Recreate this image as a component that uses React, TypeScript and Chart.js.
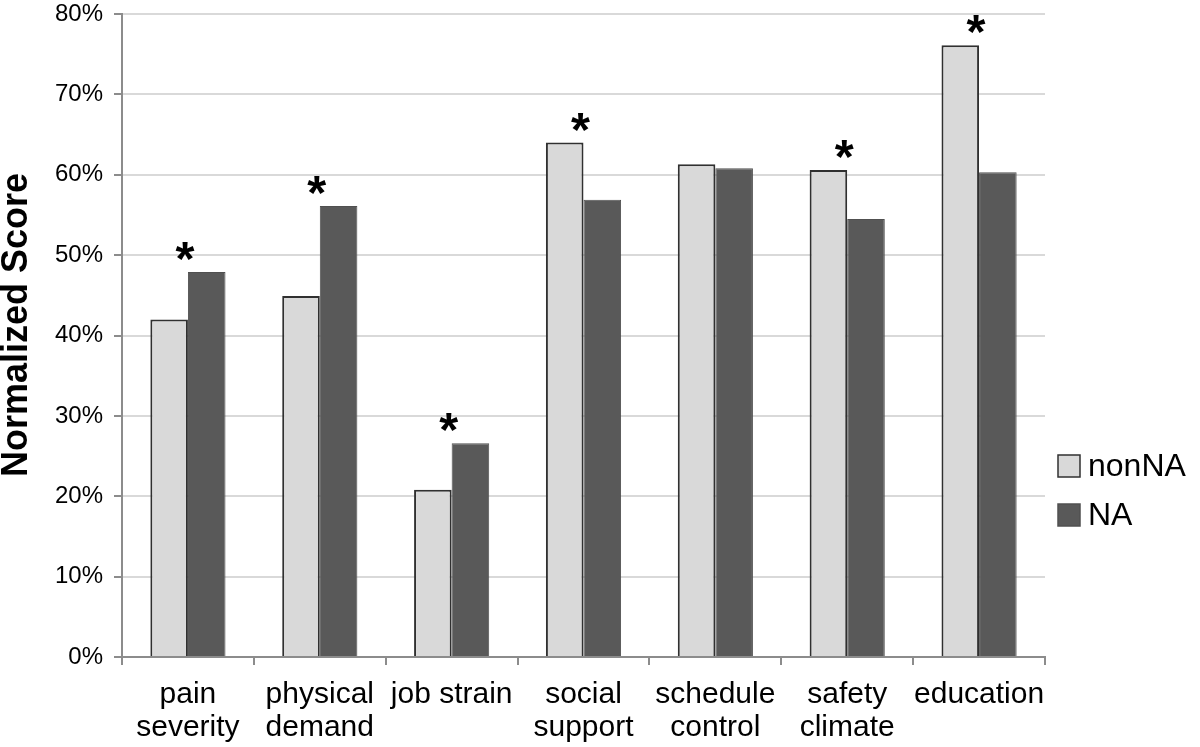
import React, { useEffect, useRef } from "react";
import { Chart, registerables } from "chart.js";

Chart.register(...registerables);

const categories: string[][] = [
  ["pain", "severity"],
  ["physical", "demand"],
  ["job strain"],
  ["social", "support"],
  ["schedule", "control"],
  ["safety", "climate"],
  ["education"],
];
const nonNA: number[] = [42.0, 44.9, 20.8, 64.0, 61.3, 60.6, 76.1];
const NA: number[] = [47.9, 56.1, 26.6, 56.9, 60.8, 54.5, 60.3];
const significant: boolean[] = [true, true, true, true, false, true, true];
const yTicks: number[] = [0, 10, 20, 30, 40, 50, 60, 70, 80];
const seriesNames: string[] = ["nonNA", "NA"];
const yTitle = "Normalized Score";

const FONT = "'Liberation Sans', Arial, Helvetica, sans-serif";

const overlayPlugin = {
  id: "overlay",
  afterDraw(chart: any) {
    const ctx = chart.ctx as CanvasRenderingContext2D;
    const xs = chart.scales.x;
    const m0 = chart.getDatasetMeta(0);
    const m1 = chart.getDatasetMeta(1);
    ctx.save();
    // asterisks
    ctx.fillStyle = "#000";
    ctx.font = `bold 100px ${FONT}`;
    const mt = ctx.measureText("*");
    const w100 = mt.actualBoundingBoxLeft + mt.actualBoundingBoxRight;
    const size = (19 / w100) * 100;
    ctx.font = `bold ${size}px ${FONT}`;
    const m = ctx.measureText("*");
    const asc = m.actualBoundingBoxAscent;
    const desc = m.actualBoundingBoxDescent;
    ctx.textAlign = "center";
    ctx.textBaseline = "alphabetic";
    significant.forEach((s, i) => {
      if (!s) return;
      const top = Math.min(m0.data[i].y, m1.data[i].y);
      const cx = xs.getPixelForValue(i) - 3;
      const cy = top - 21;
      const baseline = cy + (asc - desc) / 2;
      ctx.fillText("*", cx, baseline);
    });
    // y title
    ctx.save();
    ctx.translate(17, 325);
    ctx.rotate(-Math.PI / 2);
    ctx.font = `bold 36px ${FONT}`;
    ctx.textAlign = "center";
    ctx.textBaseline = "middle";
    ctx.fillStyle = "#000";
    ctx.fillText(yTitle, 0, 0);
    ctx.restore();
    // legend
    const ds = chart.data.datasets;
    const lx = 1058;
    const ly = [466, 515];
    ds.forEach((d: any, i: number) => {
      ctx.fillStyle = d.backgroundColor;
      ctx.fillRect(lx, ly[i] - 11, 22, 22);
      ctx.lineWidth = 1.5;
      ctx.strokeStyle = d.borderColor;
      ctx.strokeRect(lx, ly[i] - 11, 22, 22);
      ctx.fillStyle = "#000";
      ctx.font = `32px ${FONT}`;
      ctx.textAlign = "left";
      ctx.textBaseline = "middle";
      ctx.fillText(d.label, lx + 30, ly[i] + 1);
    });
    ctx.restore();
  },
};

export default function App() {
  const ref = useRef<HTMLCanvasElement | null>(null);
  useEffect(() => {
    if (!ref.current) return;
    const chart = new Chart(ref.current, {
      type: "bar",
      data: {
        labels: categories,
        datasets: [
          {
            label: seriesNames[0],
            data: nonNA,
            backgroundColor: "#d9d9d9",
            borderColor: "#303030",
            borderWidth: 2,
            categoryPercentage: 0.57,
            barPercentage: 1.0,
          },
          {
            label: seriesNames[1],
            data: NA,
            backgroundColor: "#595959",
            borderColor: "#505050",
            borderWidth: 1,
            categoryPercentage: 0.57,
            barPercentage: 1.0,
          },
        ],
      },
      options: {
        animation: false,
        responsive: true,
        maintainAspectRatio: false,
        layout: { padding: { top: 14, right: 155, left: 0, bottom: 0 } },
        plugins: {
          legend: { display: false },
          tooltip: { enabled: false },
        },
        scales: {
          x: {
            grid: {
              display: true,
              drawOnChartArea: false,
              offset: true,
              color: "#8c8c8c",
              lineWidth: 2,
              tickLength: 8,
            },
            border: { color: "#8c8c8c", width: 2 },
            ticks: {
              color: "#000",
              font: { family: FONT, size: 30, lineHeight: 1.1 },
              padding: 13,
              maxRotation: 0,
              autoSkip: false,
            },
            afterFit: (s: any) => {
              s.height = 90;
              s.paddingLeft = 0;
              s.paddingRight = 0;
            },
          },
          y: {
            min: 0,
            max: 80,
            afterBuildTicks: (s: any) => {
              s.ticks = yTicks.map((v) => ({ value: v }));
            },
            ticks: {
              color: "#000",
              font: { family: FONT, size: 24 },
              padding: 11,
              callback: (v: any) => `${v}%`,
            },
            grid: {
              color: "#d9d9d9",
              lineWidth: 2,
              tickLength: 8,
              tickColor: "#8c8c8c",
            },
            border: { color: "#8c8c8c", width: 2 },
            afterFit: (s: any) => {
              s.width = 122;
              s.paddingTop = 0;
              s.paddingBottom = 0;
            },
          },
        },
      },
      plugins: [overlayPlugin],
    });
    return () => chart.destroy();
  }, []);
  return (
    <div style={{ position: "absolute", left: 0, top: 0, width: 1200, height: 747, background: "#fff" }}>
      <canvas ref={ref} />
    </div>
  );
}
